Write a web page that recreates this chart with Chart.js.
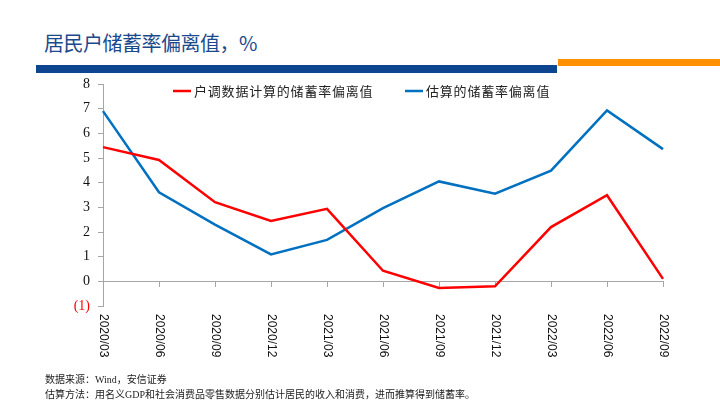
<!DOCTYPE html>
<html>
<head>
<meta charset="utf-8">
<script src="https://cdn.jsdelivr.net/npm/chart.js@4"></script>
<style>
  html, body { margin:0; padding:0; background:#fff; }
  #wrap { position:relative; width:720px; height:405px; overflow:hidden; }
  #title { position:absolute; left:44px; top:28px; font-family:"Noto Sans CJK SC", sans-serif; font-size:20px; color:#1B4A8C; letter-spacing:-0.5px; white-space:nowrap; }
  #barBlue { position:absolute; left:36px; top:65px; width:521px; height:8px; background:#0D4591; }
  #barOrange { position:absolute; left:558px; top:59px; width:162px; height:7px; background:#FF9000; }
  .note { position:absolute; left:45px; font-family:"Liberation Serif", "Noto Sans CJK SC", serif; font-size:10px; color:#222; white-space:nowrap; }
  canvas { position:absolute; left:0; top:0; }
</style>
</head>
<body>
<div id="wrap">
  <div id="title">居民户储蓄率偏离值，%</div>
  <div id="barBlue"></div>
  <div id="barOrange"></div>
  <canvas id="c" width="720" height="405"></canvas>
  <div class="note" style="top:371px;">数据来源：Wind，安信证券</div>
  <div class="note" style="top:386px;">估算方法：用名义GDP和社会消费品零售数据分别估计居民的收入和消费，进而推算得到储蓄率。</div>
</div>
<script>
const categories = ['2020/03','2020/06','2020/09','2020/12','2021/03','2021/06','2021/09','2021/12','2022/03','2022/06','2022/09'];
const surveySeries = [5.44, 4.92, 3.21, 2.45, 2.94, 0.43, -0.27, -0.2, 2.2, 3.49, 0.1];
const estimateSeries = [6.9, 3.61, 2.3, 1.09, 1.68, 2.97, 4.05, 3.55, 4.49, 6.93, 5.36];
const seriesNames = ['户调数据计算的储蓄率偏离值', '估算的储蓄率偏离值'];
const yTickLabels = { '-1':'(1)', '0':'0', '1':'1', '2':'2', '3':'3', '4':'4', '5':'5', '6':'6', '7':'7', '8':'8' };

const xLabelPlugin = {
  id: 'xLabels',
  afterDraw(chart) {
    const ctx = chart.ctx, xs = chart.scales.x, area = chart.chartArea;
    ctx.save();
    ctx.fillStyle = '#111';
    ctx.font = '12px "Liberation Sans", Arial, sans-serif';
    ctx.textAlign = 'left';
    ctx.textBaseline = 'middle';
    categories.forEach((lab, i) => {
      const x = xs.getPixelForValue(i);
      ctx.save();
      ctx.translate(x, area.bottom + 8);
      ctx.rotate(Math.PI / 2);
      ctx.fillText(lab, 0, 0);
      ctx.restore();
    });
    ctx.restore();
  }
};

const legendPlugin = {
  id: 'customLegend',
  afterDraw(chart) {
    const ctx = chart.ctx;
    ctx.save();
    ctx.font = '13px "Noto Sans CJK SC", sans-serif';
    ctx.textBaseline = 'middle';
    ctx.textAlign = 'left';
    const y = 91;
    const items = [{x:173, ds:0}, {x:405, ds:1}];
    items.forEach(it => {
      const ds = chart.data.datasets[it.ds];
      ctx.strokeStyle = ds.borderColor;
      ctx.lineWidth = 2.5;
      ctx.beginPath();
      ctx.moveTo(it.x, y);
      ctx.lineTo(it.x + 18, y);
      ctx.stroke();
      ctx.fillStyle = '#222';
      let cx = it.x + 21;
      for (const ch of ds.label) {
        ctx.fillText(ch, cx, y);
        cx += 13.8;
      }
    });
    ctx.restore();
  }
};

new Chart(document.getElementById('c'), {
  type: 'line',
  data: {
    labels: categories,
    datasets: [
      { label: seriesNames[0], data: surveySeries, borderColor: '#FF0000', backgroundColor: '#FF0000', borderWidth: 2.5, pointRadius: 0, tension: 0, fill: false },
      { label: seriesNames[1], data: estimateSeries, borderColor: '#0070C0', backgroundColor: '#0070C0', borderWidth: 2.5, pointRadius: 0, tension: 0, fill: false }
    ]
  },
  options: {
    responsive: false,
    animation: false,
    events: [],
    layout: { padding: { left: 43, right: 57, top: 84, bottom: 99 } },
    plugins: { legend: { display: false }, tooltip: { enabled: false } },
    scales: {
      x: {
        type: 'category',
        position: { y: 0 },
        offset: false,
        ticks: { display: false },
        grid: { display: true, drawOnChartArea: false, drawTicks: true, tickLength: 5, color: '#A6A6A6', lineWidth: 1 },
        border: { display: true, color: '#A6A6A6', width: 1 }
      },
      y: {
        min: -1, max: 8,
        afterFit(scale) { scale.width = 60; },
        ticks: {
          stepSize: 1,
          padding: 8,
          font: { family: '"Liberation Serif", "Times New Roman", serif', size: 14 },
          color: (c) => c.tick.value === -1 ? '#FF0000' : '#111',
          callback: (v) => yTickLabels[String(v)]
        },
        grid: { display: true, drawOnChartArea: false, drawTicks: true, tickLength: 5, color: '#A6A6A6' },
        border: { display: true, color: '#A6A6A6', width: 1 }
      }
    }
  },
  plugins: [xLabelPlugin, legendPlugin]
});
</script>
</body>
</html>
